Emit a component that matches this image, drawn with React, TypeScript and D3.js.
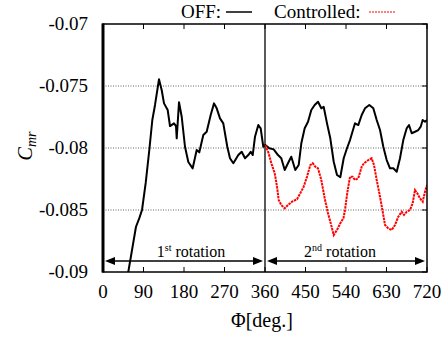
import React from 'react';
import * as d3 from 'd3';

// OFF case (black solid), phase angle in degrees and Cmr
const phiOff = [
  50, 56.2, 73.3, 80.7, 86.7, 94.9, 102.9, 109.6, 115.6, 124.4, 130.4, 135.6, 143.8, 148.9, 157.8,
  162.2, 163.8, 168.9, 174.9, 182.2, 189.6, 199.3, 208.2, 214.0, 222.9, 230.4, 239.3, 246.7, 252.7,
  260.0, 267.3, 276.2, 282.2, 289.6, 300.7, 308.2, 315.6, 322.9, 328.2, 332.7, 337.8, 345.1, 350.4,
  356.2, 360.7, 369.6, 379.3, 388.9, 396.2, 403.8, 412.7, 418.4, 427.3, 434.9, 440.7, 448.2, 455.6,
  462.9, 470.4, 477.8, 485.1, 490.4, 497.8, 505.1, 512.7, 520.0, 527.3, 534.9, 542.2, 548.9, 560.0,
  567.3, 574.9, 582.2, 591.8, 600.7, 608.2, 615.6, 622.9, 630.4, 637.8, 645.1, 652.7, 660.0, 667.3,
  674.9, 680.0, 686.0, 693.3, 700.7, 706.0, 710.4, 715.6, 720,
];
const cmrOff = [
  -0.0912, -0.0900, -0.08635, -0.08565, -0.0850, -0.08282, -0.08016, -0.07774, -0.07653, -0.07446,
  -0.07532, -0.0764, -0.07694, -0.07823, -0.07801, -0.07823, -0.07922, -0.07631, -0.07748, -0.0799,
  -0.08113, -0.08164, -0.08016, -0.08035, -0.07895, -0.07869, -0.07734, -0.0764, -0.0768, -0.07761,
  -0.07801, -0.0799, -0.08083, -0.08123, -0.08057, -0.0803, -0.08083, -0.08057, -0.0803, -0.08057,
  -0.07909, -0.07815, -0.07841, -0.0799, -0.07976, -0.08002, -0.08011, -0.08057, -0.08083, -0.08177,
  -0.08111, -0.0807, -0.08177, -0.08137, -0.07962, -0.07841, -0.07788, -0.07694, -0.07653, -0.07627,
  -0.0768, -0.07667, -0.07801, -0.07922, -0.08111, -0.08218, -0.08236, -0.08083, -0.08002, -0.07936,
  -0.07801, -0.07815, -0.07734, -0.0768, -0.07653, -0.0768, -0.07774, -0.07855, -0.0799, -0.08097,
  -0.08164, -0.08164, -0.08191, -0.08083, -0.07936, -0.07841, -0.07815, -0.07881, -0.07869, -0.07855,
  -0.07828, -0.07774, -0.07788, -0.07774,
];

// Controlled case (red dashed), second rotation only
const phiCtrl = [
  360.7, 368.2, 374.0, 381.6, 386.7, 390.4, 396.2, 403.8, 411.1, 420.0, 431.1, 438.4, 446.0, 453.3,
  460.7, 466.0, 471.8, 477.8, 485.1, 492.7, 500.0, 505.1, 512.7, 520.0, 527.3, 534.4, 537.8, 542.7,
  548.9, 554.9, 560.0, 567.3, 574.9, 580.0, 589.6, 597.1, 602.2, 608.2, 615.6, 621.6, 626.7, 634.0,
  641.6, 648.9, 656.2, 663.8, 668.9, 674.9, 682.2, 688.2, 693.3, 698.4, 704.4, 710.4, 715.6, 720,
];
const cmrCtrl = [
  -0.07976, -0.08043, -0.08123, -0.08204, -0.08312, -0.08419, -0.0846, -0.08486, -0.0846, -0.08433,
  -0.08414, -0.08365, -0.08312, -0.08232, -0.08137, -0.08123, -0.08151, -0.08164, -0.08258, -0.08406,
  -0.08527, -0.08594, -0.08702, -0.08661, -0.08607, -0.08565, -0.0850, -0.08365, -0.08232, -0.08232,
  -0.08258, -0.08244, -0.08151, -0.08123, -0.08097, -0.08083, -0.08137, -0.08258, -0.08393, -0.08514,
  -0.08621, -0.08648, -0.08661, -0.08621, -0.08554, -0.08514, -0.0854, -0.08514, -0.0850, -0.08446,
  -0.08339, -0.08365, -0.08406, -0.08433, -0.08352, -0.08298,
];

const xTicks = [0, 90, 180, 270, 360, 450, 540, 630, 720];
const yTicks = [-0.07, -0.075, -0.08, -0.085, -0.09];
const gridTicks = [-0.075, -0.08, -0.085];

const W = 447;
const H = 340;
const left = 103, right = 427, top = 24, bottom = 272;
const serif = { fontFamily: '"Liberation Serif"' };

export default function App() {
  const x = d3.scaleLinear().domain([0, 720]).range([left, right]);
  const y = d3.scaleLinear().domain([-0.09, -0.07]).range([bottom, top]);

  const line = d3.line<number[]>()
    .x(d => d[0])
    .y(d => d[1]);

  const offPts = phiOff.map((p, i) => [x(p), y(cmrOff[i])]);
  const ctrlPts = phiCtrl.map((p, i) => [x(p), y(cmrCtrl[i])]);

  const arrowY = 261;
  const arrow = (x1: number, x2: number) => {
    const h = 10, w = 4;
    return (
      <g>
        <line x1={x1 + h} x2={x2 - h} y1={arrowY} y2={arrowY} stroke="#000" strokeWidth={1.3} />
        <path d={`M${x1},${arrowY} L${x1 + h},${arrowY - w} L${x1 + h},${arrowY + w} Z`} fill="#000" />
        <path d={`M${x2},${arrowY} L${x2 - h},${arrowY - w} L${x2 - h},${arrowY + w} Z`} fill="#000" />
      </g>
    );
  };

  return (
    <svg width={W} height={H} style={{ position: 'absolute', left: 0, top: 0, background: '#fff' }}>
      <defs>
        <clipPath id="plot">
          <rect x={left} y={top} width={right - left} height={bottom - top} />
        </clipPath>
      </defs>

      {/* grid */}
      {gridTicks.map(t => (
        <line key={t} x1={left} x2={right} y1={y(t)} y2={y(t)}
          stroke="#666" strokeWidth={1} strokeDasharray="1,1.5" />
      ))}

      {/* ticks */}
      {xTicks.map(t => (
        <g key={t}>
          <line x1={x(t)} x2={x(t)} y1={bottom} y2={bottom - 5} stroke="#000" strokeWidth={1} />
          <line x1={x(t)} x2={x(t)} y1={top} y2={top + 5} stroke="#000" strokeWidth={1} />
          <text x={x(t)} y={298} textAnchor="middle" fontSize={19} style={serif}>{t}</text>
        </g>
      ))}
      {yTicks.map(t => (
        <g key={t}>
          <line x1={right} x2={right - 5} y1={y(t)} y2={y(t)} stroke="#000" strokeWidth={1} />
          <text x={88} y={y(t) + 6} textAnchor="end" fontSize={19} style={serif}>{t}</text>
        </g>
      ))}

      {/* rotation divider */}
      <line x1={x(360)} x2={x(360)} y1={top} y2={bottom} stroke="#000" strokeWidth={1.3} />

      {/* curves */}
      <g clipPath="url(#plot)">
        <path d={line(offPts) || ''} fill="none" stroke="#000" strokeWidth={2} strokeLinejoin="round" />
        <path d={line(ctrlPts) || ''} fill="none" stroke="#f00" strokeWidth={2} strokeDasharray="2.5,0.8" />
      </g>

      {/* frame */}
      <rect x={left} y={top} width={right - left} height={bottom - top} fill="none" stroke="#000" strokeWidth={1.5} />
      <line x1={left} x2={left} y1={top - 0.5} y2={bottom + 0.5} stroke="#000" strokeWidth={3} />

      {/* rotation annotations */}
      {arrow(x(0) + 2, x(360) - 2)}
      {arrow(x(360) + 2, x(720) - 2)}
      <text x={191} y={257} textAnchor="middle" fontSize={16} style={serif}>
        1<tspan fontSize={10} dy={-6}>st</tspan><tspan dy={6}> rotation</tspan>
      </text>
      <text x={340} y={257} textAnchor="middle" fontSize={16} style={serif}>
        2<tspan fontSize={10} dy={-6}>nd</tspan><tspan dy={6}> rotation</tspan>
      </text>

      {/* legend */}
      <text x={181} y={18} fontSize={19} style={serif}>OFF:</text>
      <line x1={226} x2={252} y1={12} y2={12} stroke="#000" strokeWidth={1.5} />
      <text x={274} y={18} fontSize={19} style={serif}>Controlled:</text>
      <line x1={369} x2={396} y1={12} y2={12} stroke="#f00" strokeWidth={1} strokeDasharray="2,1" />

      {/* axis titles */}
      <text x={262} y={327} textAnchor="middle" fontSize={20} style={serif}>Φ[deg.]</text>
      <text transform="translate(32,146) rotate(-90)" textAnchor="middle" fontSize={20} fontStyle="italic" style={serif}>
        C<tspan fontSize={14} dy={4}>mr</tspan>
      </text>
    </svg>
  );
}
